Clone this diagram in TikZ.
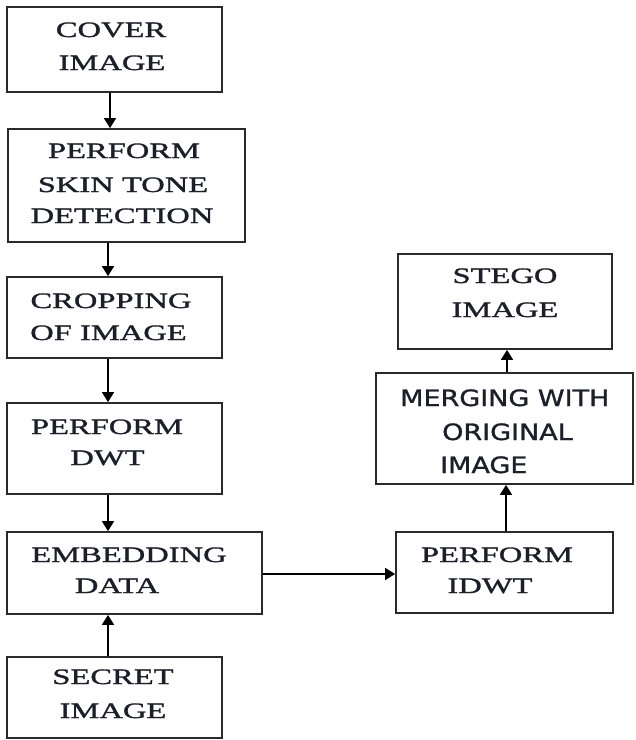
\documentclass[tikz,border=0pt]{standalone}
\usepackage{fontspec}
\newfontfamily\serifx[FakeStretch=1.48,FakeBold=1.4]{Liberation Serif}
\newfontfamily\sansx[FakeStretch=1.2,FakeBold=1.2]{DejaVu Sans}
\usetikzlibrary{arrows.meta,calc}
\definecolor{txt}{HTML}{1E1E2A}
\definecolor{edge}{HTML}{2A2A2A}
\tikzset{
  box/.style={draw=edge, line width=1.8pt, fill=white, inner sep=0pt},
  lbl/.style={anchor=base, inner sep=0pt, text=txt, font=\serifx\fontsize{22}{26}\selectfont},
  slbl/.style={anchor=base west, inner sep=0pt, text=txt, font=\sansx\fontsize{22.5}{26}\selectfont},
  arr/.style={draw=black, line width=1.8pt, -{Triangle[width=12pt,length=10pt]}},
}
\begin{document}
\begin{tikzpicture}[x=1pt,y=-1pt]
\useasboundingbox (0,0) rectangle (636,740);
% boxes
\node[box, minimum width=215pt, minimum height=85pt]  (cover)  at (114.5,49.5) {};
\node[box, minimum width=237pt, minimum height=113pt] (skin)   at (126.5,185.5) {};
\node[box, minimum width=215pt, minimum height=81pt]  (crop)   at (114.5,317.5) {};
\node[box, minimum width=215pt, minimum height=91pt]  (dwt)    at (114.5,448.5) {};
\node[box, minimum width=255pt, minimum height=82pt]  (embed)  at (134.5,573) {};
\node[box, minimum width=215pt, minimum height=81pt]  (secret) at (114.5,697.5) {};
\node[box, minimum width=217pt, minimum height=81pt]  (idwt)   at (504.5,572.5) {};
\node[box, minimum width=257pt, minimum height=111pt] (merge)  at (504.5,428.5) {};
\node[box, minimum width=214pt, minimum height=95pt]  (stego)  at (505,301.5) {};
% texts
\node[lbl] (coverA) at (111,37) {COVER};
\node[lbl] (coverB) at (112,70) {IMAGE};
\node[lbl] (skinA) at (124,158) {PERFORM};
\node[lbl] (skinB) at (123,192) {SKIN TONE};
\node[lbl] (skinC) at (122,223) {DETECTION};
\node[lbl] (cropA) at (111,308) {CROPPING};
\node[lbl] (cropB) at (108.5,340) {OF IMAGE};
\node[lbl] (dwtA) at (107,434) {PERFORM};
\node[lbl] (dwtB) at (107.5,465) {DWT};
\node[lbl] (embedA) at (129,562) {EMBEDDING};
\node[lbl] (embedB) at (117,593) {DATA};
\node[lbl] (secretA) at (113,684) {SECRET};
\node[lbl] (secretB) at (113,718) {IMAGE};
\node[lbl] (idwtA) at (497,562) {PERFORM};
\node[lbl] (idwtB) at (490,593) {IDWT};
\node[lbl] (stegoA) at (505,283) {STEGO};
\node[lbl] (stegoB) at (505,317) {IMAGE};
\node[slbl] (mergeA) at (400,406) {MERGING WITH};
\node[slbl] (mergeB) at (442,440) {ORIGINAL};
\node[slbl] (mergeC) at (440,473) {IMAGE};
% arrows
\coordinate (ax1) at (110,0);
\coordinate (ax2) at (108,0);
\coordinate (bx1) at (506,0);
\coordinate (bx2) at (507,0);
\coordinate (ey) at (0,574);
\draw[arr] (cover.south -| ax1) -- (skin.north -| ax1);
\draw[arr] (skin.south -| ax2) -- (crop.north -| ax2);
\draw[arr] (crop.south -| ax2) -- (dwt.north -| ax2);
\draw[arr] (dwt.south -| ax2) -- (embed.north -| ax2);
\draw[arr] (secret.north -| ax2) -- (embed.south -| ax2);
\draw[arr] (embed.east |- ey) -- (idwt.west |- ey);
\draw[arr] (idwt.north -| bx1) -- (merge.south -| bx1);
\draw[arr] (merge.north -| bx2) -- (stego.south -| bx2);
\end{tikzpicture}
\end{document}
